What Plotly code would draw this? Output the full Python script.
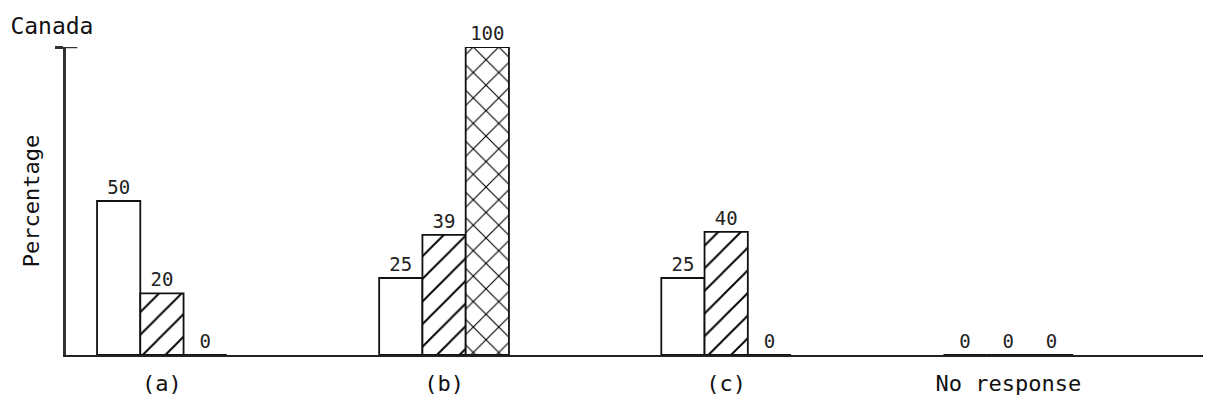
import plotly.graph_objects as go

categories = ["(a)", "(b)", "(c)", "No response"]
series_plain = [50, 25, 25, 0]
series_hatched = [20, 39, 40, 0]
series_cross = [0, 100, 0, 0]

FONT = "DejaVu Sans Mono"
fig = go.Figure()

def add(vals, shape, size):
    fig.add_trace(go.Bar(
        x=categories, y=vals,
        text=[str(v) for v in vals], textposition="outside",
        textfont=dict(family=FONT, size=19, color="#222"),
        cliponaxis=False,
        marker=dict(color="white",
                    line=dict(color="#111", width=1.8),
                    pattern=dict(shape=shape, fgcolor="#000", bgcolor="white",
                                 fgopacity=1, fillmode="replace",
                                 size=size, solidity=0.12)),
        showlegend=False,
    ))

add(series_plain, "", 16)
add(series_hatched, "/", 16)
add(series_cross, "x", 18)

fig.update_layout(
    width=1195, height=393,
    margin=dict(l=58, r=0, t=39, b=46),
    paper_bgcolor="white", plot_bgcolor="white",
    barmode="group", bargap=0.54, bargroupgap=0.0,
    title=dict(text="Canada", x=0.002, xanchor="left", y=0.975, yanchor="top",
               font=dict(family=FONT, size=23, color="#111")),
    xaxis=dict(range=[-0.34, 3.69], showline=True, linecolor="#222", linewidth=2,
               ticks="", showgrid=False, zeroline=False,
               tickfont=dict(family=FONT, size=22, color="#111"),
               ticklabelstandoff=8),
    yaxis=dict(range=[0, 100], showline=True, linecolor="#333", linewidth=2.5,
               showgrid=False, zeroline=False, tickvals=[100], ticktext=[""],
               ticks="outside", ticklen=8, tickwidth=2.5, tickcolor="#333",
               title=dict(text="Percentage", standoff=8,
                          font=dict(family=FONT, size=22, color="#111"))),
)
fig.add_shape(type="line", xref="paper", yref="y", x0=0, x1=0.01, y0=100, y1=100,
              line=dict(color="#333", width=2.5))

fig.write_html("out.html")
